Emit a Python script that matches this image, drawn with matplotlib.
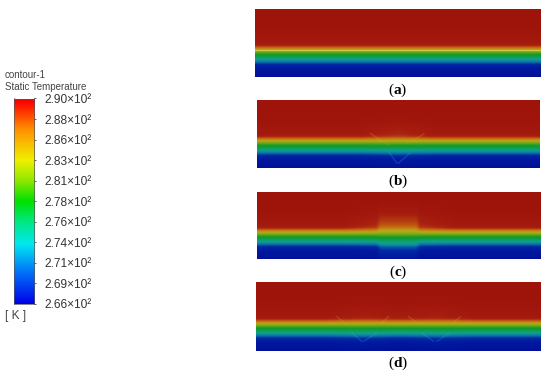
import numpy as np
import matplotlib
matplotlib.use("Agg")
import matplotlib.pyplot as plt
from matplotlib.colors import LinearSegmentedColormap

plt.rcParams["font.family"] = ["Liberation Sans", "DejaVu Sans"]
plt.rcParams["mathtext.fontset"] = "custom"
plt.rcParams["mathtext.bf"] = "Liberation Serif:bold"

W, H = 550, 379

# colorbar
bar_labels = ["2.90×10²", "2.88×10²", "2.86×10²", "2.83×10²", "2.81×10²", "2.78×10²",
              "2.76×10²", "2.74×10²", "2.71×10²", "2.69×10²", "2.66×10²"]
T_MIN, T_MAX = 266.0, 290.0
bar_colors = [(0.0, "#0000e8"), (0.15, "#0070f8"), (0.29, "#00e8f0"), (0.40, "#00e880"),
              (0.50, "#00e000"), (0.60, "#90e800"), (0.70, "#f0f000"), (0.85, "#ff9000"),
              (0.97, "#ff1000"), (1.0, "#e80000")]
# colours of the contour panels are darker than the legend
field_colors = [(0.0, "#00109a"), (0.12, "#0028a4"), (0.22, "#0a70a8"), (0.32, "#10a090"),
                (0.50, "#0f9a25"), (0.62, "#70aa18"), (0.72, "#b8aa18"), (0.85, "#c86810"),
                (0.95, "#a82010"), (1.0, "#9e120a")]

# temperature against depth in the panel (0 = top edge, 1 = bottom edge)
depth = [0.0, 0.30, 0.50, 0.535, 0.565, 0.60, 0.65, 0.72, 0.78, 0.82, 0.88, 1.0]
temp_profile = [289.9, 289.7, 289.3, 288.8, 286.5, 283.4, 279.5, 275.0, 271.5, 268.5, 267.0, 266.0]

# warm and cool patches: x position, change in the upper and lower zone
zone_depth = [0.0, 0.15, 0.30, 0.45, 0.55, 0.62, 0.72, 0.80, 0.90, 1.0]
upper_weight = [0.0, 0.03, 0.15, 0.55, 1.0, 0.0, 0.0, 0.0, 0.0, 0.0]
lower_weight = [0.0, 0.0, 0.0, 0.0, 0.0, 0.0, 0.3, 1.0, 0.8, 0.35]

patch_x = {
    "a": [0.0, 1.0],
    "b": [0.36, 0.42, 0.50, 0.57, 0.63],
    "c": [0.30, 0.42, 0.435, 0.56, 0.575, 0.70],
    "d": [0.24, 0.30, 0.38, 0.46, 0.50, 0.55, 0.63, 0.71, 0.77],
}
patch_up = {
    "a": [0.0, 0.0],
    "b": [0.0, -0.5, -1.0, -0.5, 0.0],
    "c": [0.0, -1.2, -3.2, -3.2, -1.2, 0.0],
    "d": [0.0, -0.3, -0.6, -0.4, -0.3, -0.4, -0.6, -0.3, 0.0],
}
patch_low = {
    "a": [0.0, 0.0],
    "b": [0.0, 0.2, 0.6, 0.2, 0.0],
    "c": [0.0, 0.3, 2.2, 2.2, 0.3, 0.0],
    "d": [0.0, 0.2, 0.5, 0.2, 0.0, 0.2, 0.5, 0.2, 0.0],
}

# thin streaks (x0, depth0, x1, depth1)
warm_streaks = {
    "a": [],
    "b": [(0.40, 0.49, 0.465, 0.66), (0.59, 0.50, 0.53, 0.64)],
    "c": [],
    "d": [(0.285, 0.50, 0.32, 0.62), (0.467, 0.50, 0.44, 0.60),
          (0.537, 0.50, 0.57, 0.60), (0.72, 0.50, 0.69, 0.60)],
}
cool_streaks = {
    "a": [],
    "b": [(0.465, 0.76, 0.495, 0.93), (0.54, 0.78, 0.50, 0.93)],
    "c": [],
    "d": [(0.338, 0.74, 0.373, 0.86), (0.425, 0.74, 0.38, 0.86),
          (0.584, 0.74, 0.625, 0.86), (0.678, 0.74, 0.637, 0.86)],
}

# panel edges in pixels: left, right, top, bottom, and y of the caption
panels = {
    "a": (255, 541, 9, 77, 90),
    "b": (257, 540, 100, 168, 181),
    "c": (256.5, 540, 192, 259, 272),
    "d": (255.5, 540.5, 282, 351, 363),
}


def px_axes(fig, left, right, top, bottom):
    return fig.add_axes([left / W, 1 - bottom / H, (right - left) / W, (bottom - top) / H])


def make_field(key):
    d = np.linspace(0, 1, 200)
    x = np.linspace(0, 1, 600)
    base = np.interp(d, depth, temp_profile)
    up = np.interp(x, patch_x[key], patch_up[key])
    low = np.interp(x, patch_x[key], patch_low[key])
    wu = np.interp(d, zone_depth, upper_weight)
    wl = np.interp(d, zone_depth, lower_weight)
    return base[:, None] + np.outer(wu, up) + np.outer(wl, low)


def main():
    fig = plt.figure(figsize=(W / 100, H / 100), dpi=100)

    cmap_bar = LinearSegmentedColormap.from_list("bar", bar_colors)
    cmap_field = LinearSegmentedColormap.from_list("field", field_colors)

    # legend
    fig.text(5 / W, 1 - 75.5 / H, "contour-1", fontsize=7, color="#444444", va="center")
    fig.text(5 / W, 1 - 86.5 / H, "Static Temperature", fontsize=7, color="#444444", va="center")

    ax = px_axes(fig, 13.5, 34, 98.5, 304)
    ramp = np.linspace(1, 0, 256)[:, None]
    ax.imshow(ramp, cmap=cmap_bar, vmin=0, vmax=1, aspect="auto", extent=[0, 1, T_MIN, T_MAX])
    ticks = np.linspace(T_MAX, T_MIN, len(bar_labels))
    ax.set_xticks([])
    ax.yaxis.tick_right()
    ax.set_yticks(ticks)
    ax.set_yticklabels(bar_labels, fontsize=8.6, color="#333333")
    ax.tick_params(axis="y", length=1.5, width=0.6, pad=6, color="#444444")
    for s in ax.spines.values():
        s.set_linewidth(0.5)
        s.set_color("#555555")
    fig.text(5 / W, 1 - 316 / H, "[ K ]", fontsize=8.6, color="#444444", va="center")

    # contour panels
    for key, (left, right, top, bottom, cap_y) in panels.items():
        ax = px_axes(fig, left, right, top, bottom)
        ax.imshow(make_field(key), cmap=cmap_field, vmin=T_MIN, vmax=T_MAX, aspect="auto",
                  extent=[0, 1, 1, 0], interpolation="bilinear")
        for x0, d0, x1, d1 in warm_streaks[key]:
            ax.plot([x0, x1], [d0, d1], color="#d8a030", lw=0.9, alpha=0.28)
        for x0, d0, x1, d1 in cool_streaks[key]:
            ax.plot([x0, x1], [d0, d1], color="#50b0d8", lw=0.9, alpha=0.25)
        if key == "a":
            ax.axhline(0.60, color="#e0d060", lw=0.9, alpha=0.7)
        ax.set_xlim(0, 1)
        ax.set_ylim(1, 0)
        ax.axis("off")
        fig.text((left + right) / 2 / W, 1 - cap_y / H, "($\\mathbf{%s}$)" % key,
                 fontsize=11, family=["Liberation Serif"], ha="center", va="center", color="black")

    fig.savefig("out.png", dpi=100)
    plt.close(fig)


if __name__ == "__main__":
    main()
